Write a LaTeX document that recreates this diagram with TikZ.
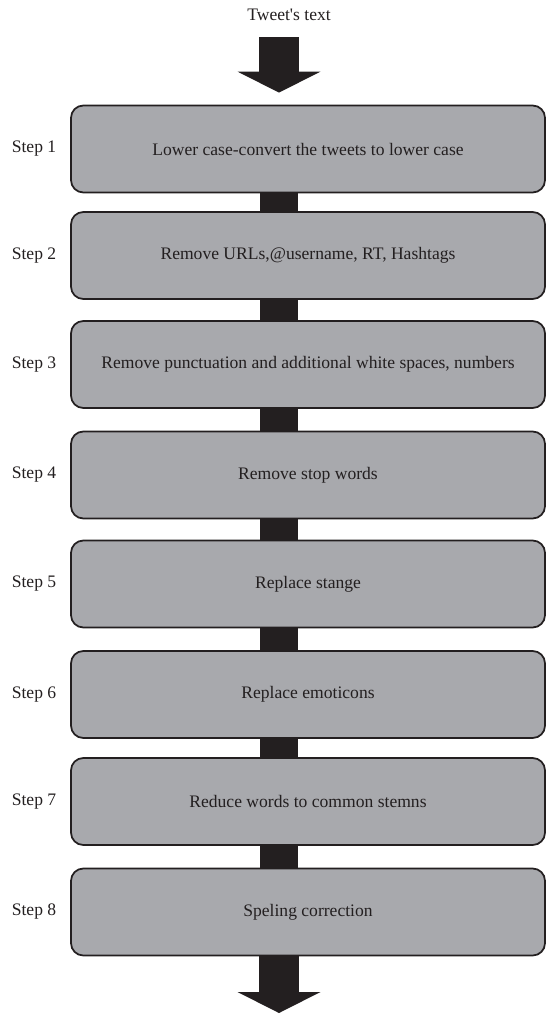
\documentclass[tikz,border=0pt]{standalone}
\usepackage{fontspec}
\setmainfont{Liberation Serif}
\usetikzlibrary{arrows.meta, positioning}
\definecolor{cink}{HTML}{231F20}
\definecolor{cgrey}{HTML}{A8A9AD}
\tikzset{
  every picture/.style={font=\fontsize{10}{12}\selectfont, text=cink},
  stepbox/.style={draw=cink, fill=cgrey, line width=1pt, rounded corners=7pt, align=center, minimum width=9.48cm, minimum height=1.74cm},
  steplab/.style={inner sep=2pt},
  link/.style={draw=cink, line width=0.76cm},
  bigarrow/.style={draw=cink, line width=0.8cm, -{Triangle[width=1.66cm, length=0.42cm, line width=0pt]}},
}

\begin{document}
\begin{tikzpicture}
  \useasboundingbox (0,0) rectangle (10.92,-20.3);
  \coordinate (ax) at (5.58,0);
  \node (tw) at (5.78,-0.3) {Tweet\textquotesingle s text};
  \node[stepbox] (b1) at (6.16,-2.98) {Lower case-convert the tweets to lower case};
  \node[stepbox] (b2) at (6.16,-5.11) {Remove URLs,@username, RT, Hashtags};
  \node[stepbox] (b3) at (6.16,-7.29) {Remove punctuation and additional white spaces, numbers};
  \node[stepbox] (b4) at (6.16,-9.50) {Remove stop words};
  \node[stepbox] (b5) at (6.16,-11.68) {Replace stange};
  \node[stepbox] (b6) at (6.16,-13.89) {Replace emoticons};
  \node[stepbox] (b7) at (6.16,-16.03) {Reduce words to common stemns};
  \node[stepbox] (b8) at (6.16,-18.24) {Speling correction};
  \node[steplab, left=0.2cm of b1] (s1) {Step 1};
  \node[steplab, left=0.2cm of b2] (s2) {Step 2};
  \node[steplab, left=0.2cm of b3] (s3) {Step 3};
  \node[steplab, left=0.2cm of b4] (s4) {Step 4};
  \node[steplab, left=0.2cm of b5] (s5) {Step 5};
  \node[steplab, left=0.2cm of b6] (s6) {Step 6};
  \node[steplab, left=0.2cm of b7] (s7) {Step 7};
  \node[steplab, left=0.2cm of b8] (s8) {Step 8};
  % in and out
  \coordinate (out) at (5.58,-20.26);
  \draw[bigarrow] ([yshift=-0.2cm]tw.south -| ax) -- ([yshift=0.24cm]b1.north -| ax);
  \draw[bigarrow] (b8.south -| ax) -- (out);
  % links between the steps
  \draw[link] (b1.south -| ax) -- (b2.north -| ax);
  \draw[link] (b2.south -| ax) -- (b3.north -| ax);
  \draw[link] (b3.south -| ax) -- (b4.north -| ax);
  \draw[link] (b4.south -| ax) -- (b5.north -| ax);
  \draw[link] (b5.south -| ax) -- (b6.north -| ax);
  \draw[link] (b6.south -| ax) -- (b7.north -| ax);
  \draw[link] (b7.south -| ax) -- (b8.north -| ax);
\end{tikzpicture}
\end{document}
